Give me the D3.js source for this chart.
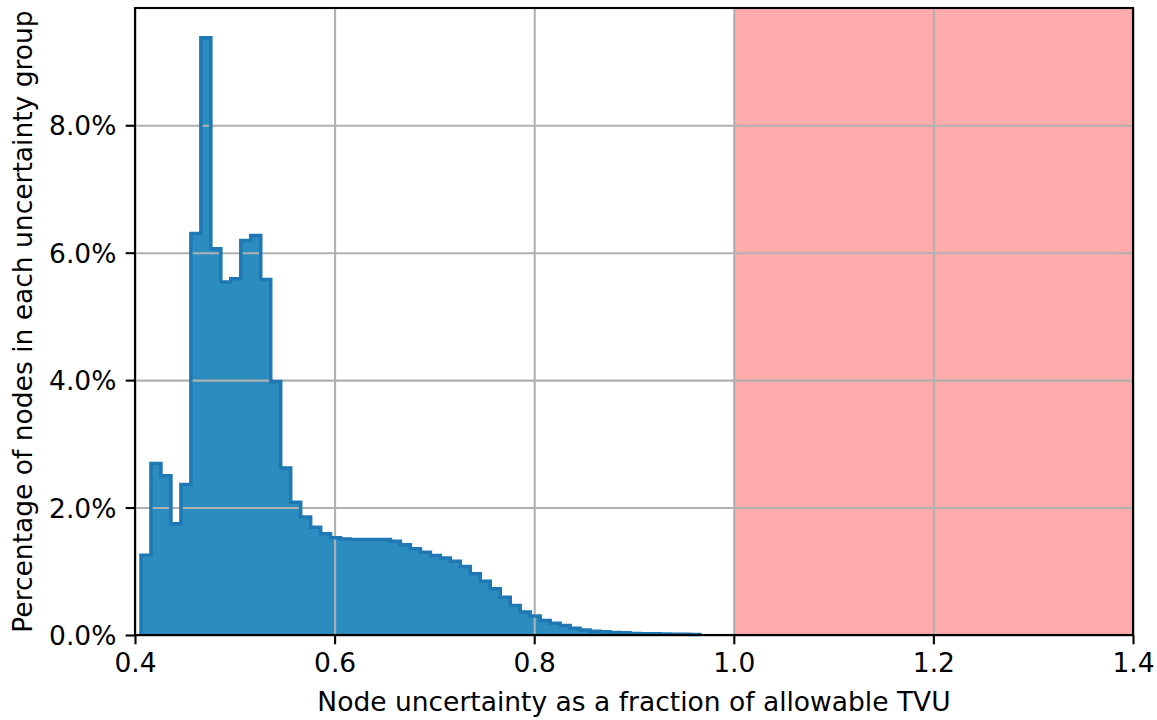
<!DOCTYPE html>
<html>
<head>
<meta charset="utf-8">
<script src="https://cdn.jsdelivr.net/npm/d3@7"></script>
<style>
  body { margin: 0; background: #fff; }
  text { font-family: "DejaVu Sans", sans-serif; }
</style>
</head>
<body>
<svg id="chart" width="1157" height="720"></svg>
<script>
// bin edges (fraction of allowable TVU)
const binEdges = [
  0.406, 0.416, 0.426, 0.436, 0.446, 0.456, 0.466, 0.476, 0.486, 0.496,
  0.506, 0.516, 0.526, 0.536, 0.546, 0.556, 0.566, 0.576, 0.586, 0.596,
  0.606, 0.616, 0.626, 0.636, 0.646, 0.656, 0.666, 0.676, 0.686, 0.696,
  0.706, 0.716, 0.726, 0.736, 0.746, 0.756, 0.766, 0.776, 0.786, 0.796,
  0.806, 0.816, 0.826, 0.836, 0.846, 0.856, 0.866, 0.876, 0.886, 0.896,
  0.906, 0.916, 0.926, 0.936, 0.946, 0.956, 0.966
]

// percentage of nodes in each bin
const nodePercent = [
  1.25, 2.69, 2.50, 1.745, 2.36, 6.30, 9.375, 6.06, 5.54, 5.59,
  6.19, 6.27, 5.58, 3.98, 2.62, 2.085, 1.85, 1.69, 1.59, 1.526,
  1.505, 1.50, 1.50, 1.50, 1.50, 1.473, 1.416, 1.353, 1.30, 1.248,
  1.21, 1.159, 1.075, 0.96, 0.845, 0.725, 0.593, 0.463, 0.36, 0.30,
  0.228, 0.185, 0.15, 0.107, 0.08, 0.058, 0.05, 0.04, 0.035, 0.025,
  0.02, 0.018, 0.015, 0.012, 0.01, 0.008
]

// shaded area beyond allowable TVU
const exceedSpan = [1.0, 1.4]

const xTicks = [0.4, 0.6, 0.8, 1.0, 1.2, 1.4]
const yTicks = [0, 2, 4, 6, 8]
const xLabel = 'Node uncertainty as a fraction of allowable TVU'
const yLabel = 'Percentage of nodes in each uncertainty group'

const svg = d3.select('#chart')
const margin = { top: 8, right: 24, bottom: 85, left: 135 }
const width = 1157
const height = 720
const fontSize = 26.5

const xScale = d3.scaleLinear()
  .domain([0.4, 1.4])
  .range([margin.left, width - margin.right])

const yScale = d3.scaleLinear()
  .domain([0, 9.84])
  .range([height - margin.bottom, margin.top])

// red span
svg.append('rect')
  .attr('x', xScale(exceedSpan[0]))
  .attr('y', margin.top)
  .attr('width', xScale(exceedSpan[1]) - xScale(exceedSpan[0]))
  .attr('height', yScale(0) - margin.top)
  .style('fill', '#ffabab')

// histogram points for step shape
const points = nodePercent.map((v, i) => [binEdges[i], v])
points.push([binEdges[binEdges.length - 1], nodePercent[nodePercent.length - 1]])

const area = d3.area()
  .x(d => xScale(d[0]))
  .y0(yScale(0))
  .y1(d => yScale(d[1]))
  .curve(d3.curveStepAfter)

svg.append('path')
  .datum(points)
  .attr('d', area)
  .style('fill', '#2b8cbf')

// grid
const xGrid = svg.append('g')
  .attr('transform', `translate(0, ${margin.top})`)
  .call(d3.axisBottom(xScale).tickValues(xTicks).tickSize(yScale(0) - margin.top).tickFormat(''))
const yGrid = svg.append('g')
  .attr('transform', `translate(${margin.left}, 0)`)
  .call(d3.axisLeft(yScale).tickValues(yTicks).tickSize(-(width - margin.left - margin.right)).tickFormat(''))
svg.selectAll('path.domain').remove()
svg.selectAll('.tick line')
  .style('stroke', '#b0b0b0')
  .style('stroke-width', 2.1)

// step outline
const outline = [[binEdges[0], 0]].concat(points.slice(0, -1))
outline.push([binEdges[binEdges.length - 1], nodePercent[nodePercent.length - 1]])
outline.push([binEdges[binEdges.length - 1], 0])
const line = d3.line()
  .x(d => xScale(d[0]))
  .y(d => yScale(d[1]))
  .curve(d3.curveStepAfter)

svg.append('path')
  .datum(outline)
  .attr('d', line)
  .style('fill', 'none')
  .style('stroke', '#1f77b4')
  .style('stroke-width', 3.5)
  .style('stroke-linejoin', 'miter')

// axes
const xAxis = svg.append('g')
  .attr('transform', `translate(0, ${yScale(0)})`)
  .call(d3.axisBottom(xScale).tickValues(xTicks).tickSize(9.3).tickPadding(9.3).tickFormat(d3.format('.1f')))
const yAxis = svg.append('g')
  .attr('transform', `translate(${margin.left}, 0)`)
  .call(d3.axisLeft(yScale).tickValues(yTicks).tickSize(9.3).tickPadding(9.3).tickFormat(d => d.toFixed(1) + '%'))

;[xAxis, yAxis].forEach(g => {
  g.selectAll('path.domain').remove()
  g.selectAll('.tick line').style('stroke', '#000').style('stroke-width', 2.1)
  g.selectAll('.tick text')
    .style('font-family', '"DejaVu Sans", sans-serif')
    .style('font-size', fontSize + 'px')
    .style('fill', '#000')
})
yAxis.selectAll('.tick text').attr('dy', '0.36em')

// frame
svg.append('rect')
  .attr('x', margin.left)
  .attr('y', margin.top)
  .attr('width', width - margin.left - margin.right)
  .attr('height', yScale(0) - margin.top)
  .style('fill', 'none')
  .style('stroke', '#000')
  .style('stroke-width', 2.1)

// axis labels
svg.append('text')
  .attr('x', (margin.left + width - margin.right) / 2)
  .attr('y', 711)
  .style('text-anchor', 'middle')
  .style('font-size', fontSize + 'px')
  .text(xLabel)

svg.append('text')
  .attr('transform', `translate(32, ${(margin.top + yScale(0)) / 2}) rotate(-90)`)
  .style('text-anchor', 'middle')
  .style('font-size', fontSize + 'px')
  .text(yLabel)
</script>
</body>
</html>
